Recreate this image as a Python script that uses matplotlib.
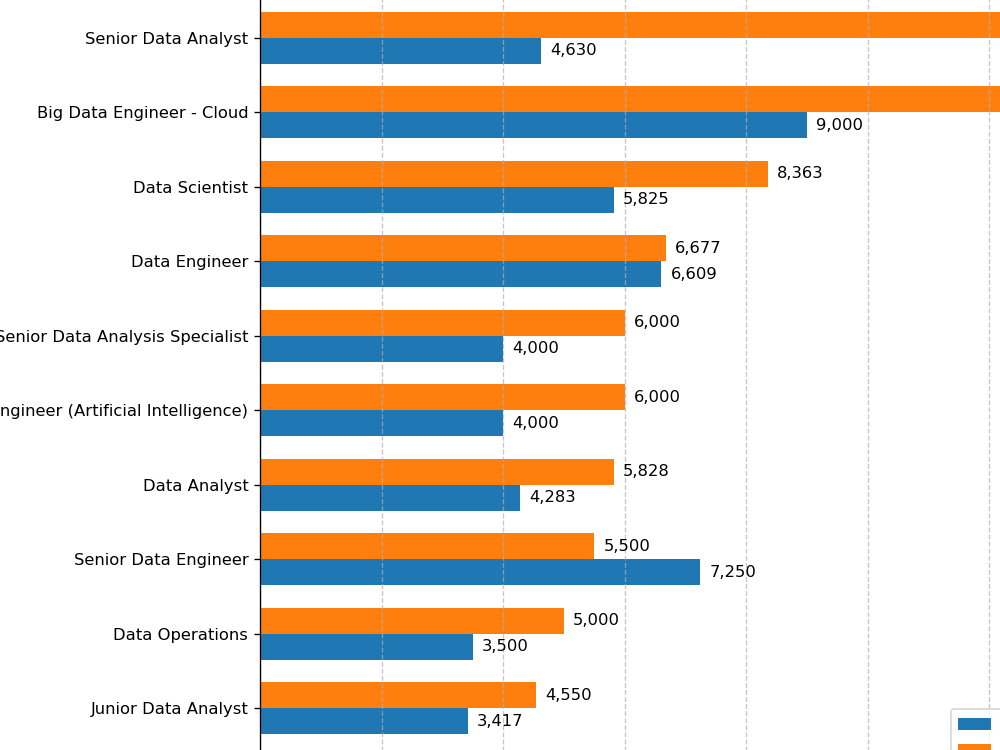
import matplotlib
matplotlib.use("Agg")
import matplotlib.pyplot as plt
import numpy as np

categories = [
    "Junior Data Analyst",
    "Data Operations",
    "Senior Data Engineer",
    "Data Analyst",
    "Data Engineer (Artificial Intelligence)",
    "Senior Data Analysis Specialist",
    "Data Engineer",
    "Data Scientist",
    "Big Data Engineer - Cloud",
    "Senior Data Analyst",
]
min_salary = [3417, 3500, 7250, 4283, 4000, 4000, 6609, 5825, 9000, 4630]
max_salary = [4550, 5000, 5500, 5828, 6000, 6000, 6677, 8363, 13000, 14000]
series_names = ["Average Minimum Salary", "Average Maximum Salary"]

DPI = 120
W, H = 1000, 750
plt.rcParams["font.size"] = 9.8
fig = plt.figure(figsize=(W / DPI, H / DPI), dpi=DPI)

# axes placement in pixels (figure extends beyond the visible crop)
px_per_unit_x = 60.75 / 1000.0
xmax = max(max_salary) * 1.05
left_px = 260
width_px = xmax * px_per_unit_x
top_px = -24.5
bottom_px = 770.5
ax = fig.add_axes([left_px / W, (H - bottom_px) / H, width_px / W, (bottom_px - top_px) / H])

y = np.arange(len(categories))
h = 0.35
b1 = ax.barh(y - h / 2, min_salary, height=h, color="#1f77b4", label=series_names[0])
b2 = ax.barh(y + h / 2, max_salary, height=h, color="#ff7f0e", label=series_names[1])
ax.set_xlim(0, xmax)
ax.set_ylim(-0.835, 9.835)
ax.set_yticks(y)
ax.set_yticklabels(categories)
ax.bar_label(b1, labels=[f"{v:,}" for v in min_salary], padding=5.5)
ax.bar_label(b2, labels=[f"{v:,}" for v in max_salary], padding=5.5)
ax.grid(axis="x", linestyle="--", alpha=0.7)

ax.legend(loc="upper left", bbox_to_anchor=(951 / W, (H - 709) / H),
          bbox_transform=fig.transFigure, borderaxespad=0, fontsize=10)

fig.savefig("out.png", dpi=DPI)
